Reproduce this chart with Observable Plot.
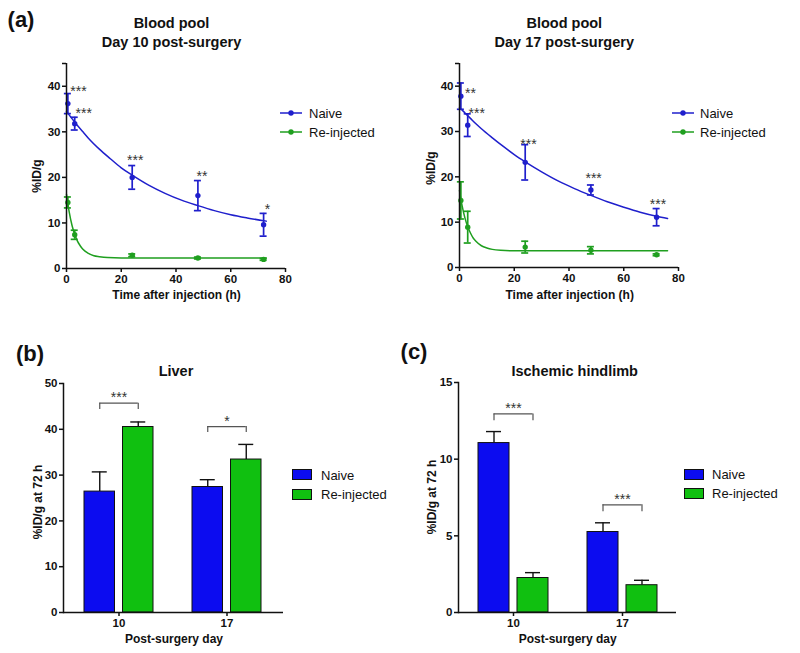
<!DOCTYPE html>
<html><head><meta charset="utf-8">
<script src="https://cdn.jsdelivr.net/npm/d3@7"></script>
<script src="https://cdn.jsdelivr.net/npm/@observablehq/plot@0.6"></script>
<style>
body{margin:0;background:#fff;}
#root{position:relative;width:800px;height:653px;overflow:hidden;font-family:"Liberation Sans",Arial,sans-serif;color:#111;}
.pl{position:absolute;}
.t{position:absolute;transform:translate(-50%,-50%);white-space:nowrap;line-height:1;font-weight:bold;}
.l{position:absolute;transform:translate(0,-50%);white-space:nowrap;line-height:1;font-size:13px;}
.v{position:absolute;transform:translate(-50%,-50%) rotate(-90deg);white-space:nowrap;line-height:1;font-weight:bold;font-size:12px;}
</style></head><body><div id="root"></div>
<script>
// ---------- data: blood pool ----------
const times = [0.5, 3, 24, 48, 72];
const d10NaiveMean = [36.2, 31.8, 20.0, 16.0, 9.6];
const d10NaiveSD   = [2.2, 1.4, 2.6, 3.3, 2.5];
const d10ReMean    = [14.5, 7.4, 2.9, 2.3, 2.0];
const d10ReSD      = [1.2, 1.0, 0.3, 0.2, 0.2];
const d17NaiveMean = [37.8, 31.4, 23.2, 17.1, 11.1];
const d17NaiveSD   = [2.9, 2.5, 3.9, 1.1, 1.9];
const d17ReMean    = [14.8, 8.9, 4.5, 3.8, 2.8];
const d17ReSD      = [4.1, 3.5, 1.3, 0.8, 0.2];

// fitted curves
const fit10NaiveT = [0, 2, 4, 6, 8, 12, 16, 20, 24, 30, 36, 42, 48, 54, 60, 66, 73];
const fit10NaiveY = [34.5, 32.9, 31.4, 30.0, 28.6, 26.2, 24.1, 22.1, 20.5, 18.3, 16.5, 15.0, 13.8, 12.7, 11.8, 11.1, 10.4];
const fit10ReT = [0, 0.5, 1, 2, 3, 4, 5, 6, 8, 10, 12, 15, 20, 30, 45, 60, 73];
const fit10ReY = [16.3, 14.2, 12.4, 9.5, 7.5, 6.0, 5.0, 4.2, 3.3, 2.8, 2.6, 2.4, 2.3, 2.3, 2.3, 2.3, 2.3];
const fit17NaiveT = [0, 2, 4, 6, 8, 12, 16, 20, 24, 30, 36, 42, 48, 54, 60, 66, 72, 76];
const fit17NaiveY = [35.3, 34.1, 32.9, 31.7, 30.6, 28.6, 26.7, 24.9, 23.3, 21.1, 19.1, 17.4, 15.9, 14.5, 13.3, 12.2, 11.3, 10.8];
const fit17ReT = [0, 0.5, 1, 2, 3, 4, 5, 6, 8, 10, 12, 15, 20, 30, 45, 60, 76];
const fit17ReY = [17.0, 15.1, 13.5, 10.9, 9.0, 7.6, 6.5, 5.8, 4.8, 4.3, 4.0, 3.8, 3.7, 3.7, 3.7, 3.7, 3.7];

// significance annotations
const d10StarT = [4.4, 6.3, 25.1, 49.5, 73.4];
const d10StarY = [39.6, 34.7, 24.5, 20.9, 13.8];
const d10StarText = ["***", "***", "***", "**", "*"];
const d17StarT = [4.0, 6.3, 25.2, 49.0, 72.5];
const d17StarY = [39.2, 34.7, 28.0, 20.3, 14.7];
const d17StarText = ["**", "***", "***", "***", "***"];

const timeTicks = [0, 20, 40, 60, 80];
const bloodTicks = [0, 10, 20, 30, 40, 45];

// ---------- data: bars ----------
const days = ["10", "17"];
const groups = ["Naive", "Re-injected"];
const liverNaive = [26.4, 27.4];
const liverNaiveSD = [4.3, 1.6];
const liverRe = [40.5, 33.4];
const liverReSD = [1.1, 3.3];
const liverBracketTop = [45.7, 40.6];
const liverBracketLeg = [44.3, 39.3];
const liverStars = ["***", "*"];
const liverTicks = [0, 10, 20, 30, 40, 50];

const limbNaive = [11.05, 5.25];
const limbNaiveSD = [0.75, 0.6];
const limbRe = [2.25, 1.78];
const limbReSD = [0.35, 0.32];
const limbBracketTop = [12.95, 7.02];
const limbBracketLeg = [12.5, 6.57];
const limbStars = ["***", "***"];
const limbTicks = [0, 5, 10, 15];

const BLUE_L = "#1f1fcc", GREEN_L = "#1f9f1f";
const BLUE_B = "#0c0cf0", GREEN_B = "#10c010";
const FONT = "'Liberation Sans', Arial, sans-serif";
const TICKFS = 11.5;

const root = document.getElementById("root");
function place(node, x, y) {
  node.classList.add("pl");
  node.style.left = x + "px"; node.style.top = y + "px";
  root.appendChild(node);
}
function label(cls, text, x, y, extra) {
  const d = document.createElement("div");
  d.className = cls; d.textContent = text;
  d.style.left = x + "px"; d.style.top = y + "px";
  if (extra) Object.assign(d.style, extra);
  root.appendChild(d);
}

function bloodPlot(o) {
  const rows = (m, s, g) => times.map((t, i) => ({t, y: m[i], lo: m[i] - s[i], hi: m[i] + s[i], g}));
  const naive = rows(o.naive, o.naiveSD, "Naive");
  const re = rows(o.re, o.reSD, "Re-injected");
  const fitN = o.fitNT.map((t, i) => ({t, y: o.fitNY[i]}));
  const fitR = o.fitRT.map((t, i) => ({t, y: o.fitRY[i]}));
  const stars = o.starT.map((t, i) => ({t, y: o.starY[i], s: o.starText[i]}));
  const series = [[naive, fitN, BLUE_L], [re, fitR, GREEN_L]];
  const marks = [];
  for (const [d, f, c] of series) {
    marks.push(Plot.line(f, {x: "t", y: "y", stroke: c, strokeWidth: 1.5, curve: "monotone-x"}));
    marks.push(Plot.ruleX(d, {x: "t", y1: "lo", y2: "hi", stroke: c, strokeWidth: 1.7}));
    marks.push(Plot.ruleY(d, {x1: "t", x2: "t", y: "hi", stroke: c, strokeWidth: 1.7, insetLeft: -3.5, insetRight: -3.5}));
    marks.push(Plot.ruleY(d, {x1: "t", x2: "t", y: "lo", stroke: c, strokeWidth: 1.7, insetLeft: -3.5, insetRight: -3.5}));
    marks.push(Plot.dot(d, {x: "t", y: "y", r: 2.7, fill: c}));
  }
  marks.push(Plot.text(stars, {x: "t", y: "y", text: "s", fontSize: 14, fill: "#333", dy: 3.5}));
  marks.push(Plot.ruleY([0], {x1: 0, x2: 80, strokeWidth: 1.5}));
  marks.push(Plot.ruleX([0], {y1: 0, y2: 45, strokeWidth: 1.5}));
  marks.push(Plot.axisX({ticks: timeTicks, tickSize: 4, tickPadding: 2, label: null, fontSize: TICKFS, fontWeight: "bold", strokeWidth: 1.5}));
  marks.push(Plot.axisY({ticks: bloodTicks, tickFormat: (d) => d === 45 ? "" : d, tickSize: 4, tickPadding: 2, label: null, fontSize: TICKFS, fontWeight: "bold", strokeWidth: 1.5}));
  return Plot.plot({
    width: 400, height: 310,
    marginLeft: o.ml, marginRight: o.mr, marginTop: 63, marginBottom: o.mb,
    x: {domain: [0, 80]}, y: {domain: [0, 45]},
    style: {fontFamily: FONT, background: "transparent", color: "#111", overflow: "visible"},
    marks
  });
}

function barPlot(o) {
  const W = 400, H = 343;
  const bw = d3.scaleBand().domain(days).range([o.ml, W - o.mr]).paddingInner(o.pi).paddingOuter(o.po).bandwidth();
  const gap = 8;
  const barW = (bw - gap) / 2;
  const off = bw / 2 - barW / 2;
  const cap = 7.5;
  const rows = (m, s) => days.map((d, i) => ({day: d, v: m[i], top: m[i] + s[i]}));
  const naive = rows(o.naive, o.naiveSD);
  const re = rows(o.re, o.reSD);
  const br = days.map((d, i) => ({day: d, h: o.bTop[i], leg: o.bLeg[i], s: o.stars[i]}));
  const marks = [
    Plot.ruleX(naive, {x: "day", y1: "v", y2: "top", dx: -off, strokeWidth: 1.4}),
    Plot.tickY(naive, {x: "day", y: "top", insetLeft: barW / 2 - cap, insetRight: bw - barW / 2 - cap, strokeWidth: 1.4}),
    Plot.ruleX(re, {x: "day", y1: "v", y2: "top", dx: off, strokeWidth: 1.4}),
    Plot.tickY(re, {x: "day", y: "top", insetLeft: bw - barW / 2 - cap, insetRight: barW / 2 - cap, strokeWidth: 1.4}),
    Plot.barY(naive, {x: "day", y: "v", fill: BLUE_B, stroke: "#111", strokeWidth: 1, insetLeft: 0, insetRight: bw - barW}),
    Plot.barY(re, {x: "day", y: "v", fill: GREEN_B, stroke: "#111", strokeWidth: 1, insetLeft: bw - barW, insetRight: 0}),
    Plot.tickY(br, {x: "day", y: "h", insetLeft: barW / 2, insetRight: barW / 2, stroke: "#555", strokeWidth: 1.2}),
    Plot.ruleX(br, {x: "day", y1: "leg", y2: "h", dx: -off, stroke: "#555", strokeWidth: 1.2}),
    Plot.ruleX(br, {x: "day", y1: "leg", y2: "h", dx: off, stroke: "#555", strokeWidth: 1.2}),
    Plot.text(br, {x: "day", y: "h", text: "s", fontSize: 14, fill: "#333", dy: -9 + 3.5}),
    Plot.ruleY([0], {strokeWidth: 1.5}),
    Plot.frame({anchor: "left", strokeWidth: 1.5}),
    Plot.axisX({tickSize: 4, tickPadding: 2, label: null, fontSize: TICKFS, fontWeight: "bold", strokeWidth: 1.5}),
    Plot.axisY({ticks: o.ticks, tickSize: 4, tickPadding: 2, label: null, fontSize: TICKFS, fontWeight: "bold", strokeWidth: 1.5})
  ];
  return Plot.plot({
    width: W, height: H,
    marginLeft: o.ml, marginRight: o.mr, marginTop: o.mt, marginBottom: 41,
    x: {type: "band", domain: days, paddingInner: o.pi, paddingOuter: o.po},
    y: {domain: [0, o.yMax]},
    style: {fontFamily: FONT, background: "transparent", color: "#111", overflow: "visible"},
    marks
  });
}

place(bloodPlot({naive: d10NaiveMean, naiveSD: d10NaiveSD, re: d10ReMean, reSD: d10ReSD,
  fitNT: fit10NaiveT, fitNY: fit10NaiveY, fitRT: fit10ReT, fitRY: fit10ReY,
  starT: d10StarT, starY: d10StarY, starText: d10StarText, ml: 66, mr: 115, mb: 42}), 0, 0);
place(bloodPlot({naive: d17NaiveMean, naiveSD: d17NaiveSD, re: d17ReMean, reSD: d17ReSD,
  fitNT: fit17NaiveT, fitNY: fit17NaiveY, fitRT: fit17ReT, fitRY: fit17ReY,
  starT: d17StarT, starY: d17StarY, starText: d17StarText, ml: 59, mr: 122, mb: 43}), 400, 0);
place(barPlot({naive: liverNaive, naiveSD: liverNaiveSD, re: liverRe, reSD: liverReSD,
  bTop: liverBracketTop, bLeg: liverBracketLeg, stars: liverStars, ticks: liverTicks, yMax: 50,
  ml: 63, mr: 117, mt: 73, pi: 0.361, po: 0.199}), 0, 310);
place(barPlot({naive: limbNaive, naiveSD: limbNaiveSD, re: limbRe, reSD: limbReSD,
  bTop: limbBracketTop, bLeg: limbBracketLeg, stars: limbStars, ticks: limbTicks, yMax: 15,
  ml: 58, mr: 124, mt: 72, pi: 0.358, po: 0.179}), 400, 310);

// ---------- text ----------
label("t", "(a)", 21, 20, {fontSize: "22px"});
label("t", "(b)", 30, 354, {fontSize: "22px"});
label("t", "(c)", 414, 352, {fontSize: "22px"});
label("t", "Blood pool", 171.5, 22.5, {fontSize: "14.5px"});
label("t", "Day 10 post-surgery", 171.5, 41.5, {fontSize: "14.5px"});
label("t", "Blood pool", 564.3, 22.5, {fontSize: "14.5px"});
label("t", "Day 17 post-surgery", 564.3, 41.5, {fontSize: "14.5px"});
label("t", "Liver", 176, 371, {fontSize: "14.5px"});
label("t", "Ischemic hindlimb", 574.7, 371, {fontSize: "14.5px"});
label("t", "Time after injection (h)", 176.5, 295, {fontSize: "12px"});
label("t", "Time after injection (h)", 569.7, 295, {fontSize: "12px"});
label("t", "Post-surgery day", 174, 638.5, {fontSize: "12px"});
label("t", "Post-surgery day", 567.7, 638.5, {fontSize: "12px"});
label("v", "%ID/g", 37, 176);
label("v", "%ID/g", 430.5, 167.5);
label("v", "%ID/g at 72 h", 37.5, 502);
label("v", "%ID/g at 72 h", 432, 497);

// ---------- legends ----------
const lineColors = [BLUE_L, GREEN_L];
const barColors = [BLUE_B, GREEN_B];
function lineLegend(x0, ys, tx) {
  groups.forEach((g, i) => {
    const s = d3.create("svg").attr("width", 24).attr("height", 8);
    s.append("line").attr("x1", 1).attr("x2", 23).attr("y1", 4).attr("y2", 4).attr("stroke", lineColors[i]).attr("stroke-width", 1.5);
    s.append("circle").attr("cx", 12).attr("cy", 4).attr("r", 2.7).attr("fill", lineColors[i]);
    place(s.node(), x0 - 1, ys[i] - 4);
    label("l", g, tx, ys[i]);
  });
}
function boxLegend(x0, ys, tx) {
  groups.forEach((g, i) => {
    const s = d3.create("svg").attr("width", 21).attr("height", 12);
    s.append("rect").attr("x", 0.5).attr("y", 0.5).attr("width", 19).attr("height", 10).attr("fill", barColors[i]).attr("stroke", "#111");
    place(s.node(), x0, ys[i] - 5.5);
    label("l", g, tx, ys[i]);
  });
}
lineLegend(280, [113, 132], 309);
lineLegend(672, [113, 132], 700);
boxLegend(292, [474.5, 494], 321);
boxLegend(684, [474, 493], 712);
</script></body></html>
